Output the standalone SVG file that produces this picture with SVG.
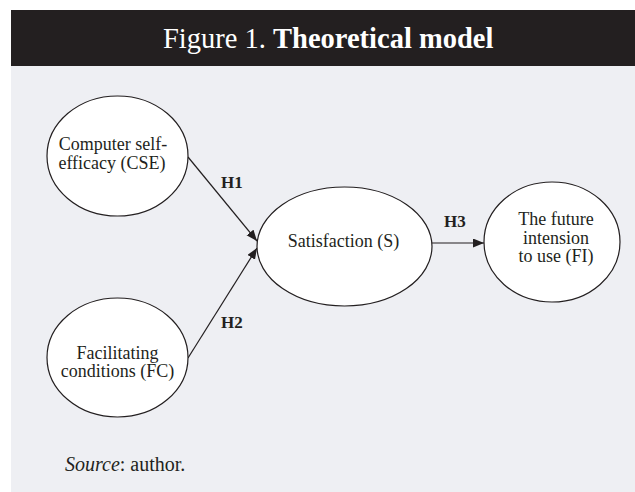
<svg xmlns="http://www.w3.org/2000/svg" width="635" height="492" viewBox="0 0 635 492">
  <style>
    .node ellipse { fill: #ffffff; stroke: #231f20; stroke-width: 1.2; }
    .lbl { font-family: "Liberation Serif", "Times New Roman", serif; font-size: 18px; fill: #231f20; text-anchor: middle; }
    .h { font-family: "Liberation Serif", "Times New Roman", serif; font-size: 17px; font-weight: bold; fill: #231f20; }
    .edge { stroke: #231f20; stroke-width: 1.2; fill: none; marker-end: url(#arr); }
  </style>
  <defs>
    <marker id="arr" markerUnits="userSpaceOnUse" markerWidth="12" markerHeight="10" refX="11" refY="4.5" orient="auto">
      <path d="M0,0 L11,4.5 L0,9 Z" fill="#231f20"/>
    </marker>
  </defs>
  <rect x="0" y="0" width="635" height="492" fill="#ffffff"/>
  <rect x="11" y="66" width="624" height="426" fill="#eeeff3"/>
  <rect x="11" y="10" width="624" height="56" fill="#231f20"/>
  <text x="163" y="48" font-family="'Liberation Serif', 'Times New Roman', serif" font-size="28.5" fill="#ffffff">Figure 1. <tspan font-weight="bold">Theoretical model</tspan></text>

  <g id="connectors">
    <line class="edge" x1="188" y1="157" x2="257" y2="241"/>
    <line class="edge" x1="188" y1="358" x2="257" y2="248"/>
    <line class="edge" x1="432" y1="243" x2="484" y2="243"/>
    <text class="h" x="221" y="188">H1</text>
    <text class="h" x="221" y="328">H2</text>
    <text class="h" x="444" y="227">H3</text>
  </g>

  <g id="cse" class="node">
    <ellipse cx="117.5" cy="156" rx="70.5" ry="60"/>
    <text class="lbl" x="113" y="150">Computer self-</text>
    <text class="lbl" x="112" y="168.5">efficacy (CSE)</text>
  </g>
  <g id="fc" class="node">
    <ellipse cx="117.5" cy="357.5" rx="70.5" ry="59.5"/>
    <text class="lbl" x="117.5" y="358.5">Facilitating</text>
    <text class="lbl" x="117.5" y="377">conditions (FC)</text>
  </g>
  <g id="s" class="node">
    <ellipse cx="344.5" cy="246.5" rx="87.5" ry="59.5"/>
    <text class="lbl" x="343.5" y="247">Satisfaction (S)</text>
  </g>
  <g id="fi" class="node">
    <ellipse cx="552" cy="242" rx="68" ry="60"/>
    <text class="lbl" x="556" y="225">The future</text>
    <text class="lbl" x="556" y="243.5">intension</text>
    <text class="lbl" x="556" y="262">to use (FI)</text>
  </g>

  <text x="65" y="471" font-family="'Liberation Serif', 'Times New Roman', serif" font-size="20" fill="#231f20"><tspan font-style="italic">Source</tspan>: author.</text>
</svg>
